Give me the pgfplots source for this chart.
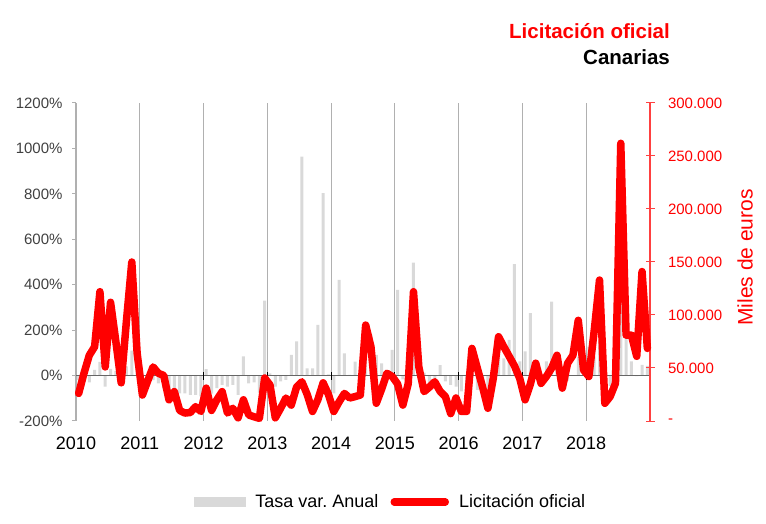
\documentclass[border=0pt]{standalone}
\usepackage{pgfplots}
\pgfplotsset{compat=1.18}
\usepackage{pgfplotstable}
\usepackage{fontspec}
\setmainfont{Liberation Sans}
\definecolor{barg}{HTML}{D9D9D9}
\definecolor{gridg}{HTML}{B0B0B0}
\definecolor{axred}{HTML}{FF4040}
\definecolor{lab}{HTML}{404040}

\pgfplotstableread{
m tasa lic
0.5 -20 26
1.5 10 45
2.5 -30 62
3.5 25 70
4.5 60 122
5.5 -49 51
6.5 30 112
7.5 20 75
8.5 -10 36
9.5 40 95
10.5 110 150
11.5 50 64
12.5 -6 24.5
13.5 -16 38
14.5 -20 51
15.5 -34 45
16.5 -56 43
17.5 -85 20
18.5 -63 27.7
19.5 -78 10
20.5 -78 7.5
21.5 -85 8
22.5 -85 13.5
23.5 -92 9
24.5 28 31
25.5 -80 10
26.5 -55 20
27.5 -41 27.7
28.5 -49 7.5
29.5 -41 12
30.5 -85 3
31.5 84 20
32.5 -34 5.7
33.5 -30 4
34.5 -75 2.5
35.5 330 40.5
36.5 10 34
37.5 -49 3
38.5 -26 12
39.5 -19 21.7
40.5 91 15
41.5 150 32
42.5 964 37
43.5 32 25
44.5 32 9
45.5 223 20
46.5 803 36
47.5 5 25
48.5 -78 9
49.5 421 18
50.5 98 26
51.5 3 21.7
52.5 61 23
53.5 -23 24.5
54.5 145 90.5
55.5 180 70
56.5 91 16.7
57.5 54 30
58.5 25 45
59.5 113 42
60.5 377 35
61.5 -17 15
62.5 35 35
63.5 497 122
64.5 122 51
65.5 13 27.7
66.5 -65 32
67.5 -47 37
68.5 46 28
69.5 -26 23
70.5 -41 7
71.5 -49 21.7
72.5 -70 9
73.5 -40 9
74.5 96 68.5
75.5 -63 50
76.5 -37 32
77.5 -57 12
78.5 40 40
79.5 115 79.5
80.5 76 70
81.5 157 61
82.5 491 52
83.5 62 40
84.5 106 20
85.5 275 35
86.5 50 54.5
87.5 -21 35.5
88.5 62 42
89.5 326 50
90.5 38 62
91.5 -61 31
92.5 -22 54.5
93.5 2 62
94.5 83 95
95.5 26 48
96.5 127 42
97.5 84 85
98.5 144 133
99.5 -53 16.7
100.5 -45 23
101.5 -29 35.5
102.5 322 262
103.5 172 81
104.5 62 81
105.5 -2 61
106.5 47 141
107.5 43 68.5
}\data

\begin{document}
\frenchspacing
\begin{tikzpicture}
\useasboundingbox (0bp,0bp) rectangle (766bp,524bp);
\begin{axis}[
  at={(76bp,103bp)}, anchor=south west,
  width=574bp, height=318bp, scale only axis,
  xmin=0, xmax=108, ymin=-200, ymax=1200,
  axis y line*=left, axis x line*=bottom,
  x axis line style={draw=none},
  y axis line style={draw=gridg, line width=1.2bp, -},
  xtick={0,12,...,96},
  xticklabels={2010,2011,2012,2013,2014,2015,2016,2017,2018},
  xtick style={draw=none},
  xmajorgrids, major x grid style={draw=gridg, line width=1.2bp},
  xticklabel style={font=\fontsize{18bp}{20bp}\selectfont, text=black, yshift=-12bp},
  ytick={-200,0,200,400,600,800,1000,1200},
  yticklabels={-200\%,0\%,200\%,400\%,600\%,800\%,1000\%,1200\%},
  ytick align=outside, major tick length=4bp,
  ytick style={draw=gridg, line width=1bp},
  yticklabel style={font=\fontsize{15bp}{17bp}\selectfont, text=lab, xshift=-6bp},
]
\addplot[ybar, bar width=3bp, fill=barg, draw=none] table[x=m,y=tasa]{\data};
\draw[black!60, line width=1.2bp] (axis cs:0,0) -- (axis cs:108,0);
\pgfplotsinvokeforeach{12,24,36,48,60,72,84,96,108}{
  \draw[black, line width=1bp] (axis cs:#1,0) ++(0bp,-4bp) -- ++(0bp,8bp);
}
\end{axis}
\begin{axis}[
  at={(76bp,103bp)}, anchor=south west,
  width=574bp, height=318bp, scale only axis,
  xmin=0, xmax=108, ymin=0, ymax=300,
  axis y line*=right, axis x line=none,
  y axis line style={draw=axred, line width=1.2bp, -},
  ytick={0,50,100,150,200,250,300},
  yticklabels={-,50.000,100.000,150.000,200.000,250.000,300.000},
  ytick align=center, major tick length=9bp,
  ytick style={draw=axred, line width=1bp},
  yticklabel style={font=\fontsize{15bp}{17bp}\selectfont, text=red, xshift=10bp},
  clip=false,
  legend style={at={(axis description cs:0.548,-0.2547)}, anchor=center,
    draw=none, fill=none, legend columns=2,
    font=\fontsize{18bp}{20bp}\selectfont,
    /tikz/every odd column/.append style={column sep=8bp},
    /tikz/every even column/.append style={column sep=10bp}},
  legend cell align=left,
]
\addlegendimage{legend image code/.code={\fill[barg] (0bp,-4.5bp) rectangle (51bp,4.5bp);}}
\addlegendentry{Tasa var.\ Anual}
\addplot[red, line width=7.5bp, line join=round, line cap=round,
  legend image code/.code={\draw[red, line width=7.5bp, line cap=round] (4bp,0bp) -- (55bp,0bp);}]
  table[x=m,y=lic]{\data};
\addlegendentry{Licitación oficial}
\end{axis}
\node[anchor=base east, inner sep=0pt, text=red, font=\bfseries\fontsize{20.5bp}{24bp}\selectfont] at (670bp,485bp) {Licitación oficial};
\node[anchor=base east, inner sep=0pt, text=black, font=\bfseries\fontsize{20.5bp}{24bp}\selectfont] at (670bp,459bp) {Canarias};
\node[rotate=90, text=red, font=\fontsize{21bp}{24bp}\selectfont] at (745bp,266.5bp) {Miles de euros};
\end{tikzpicture}
\end{document}
